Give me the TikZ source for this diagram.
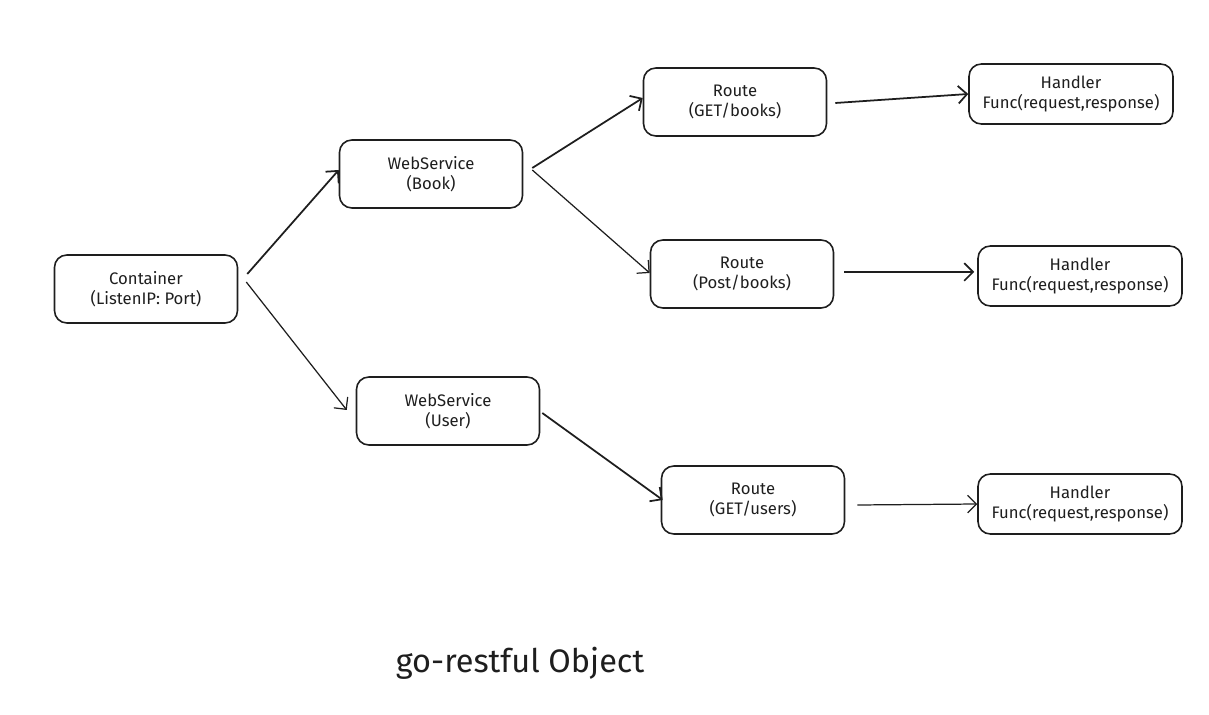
\documentclass[tikz,border=0pt]{standalone}
\usepackage{fontspec}
\setmainfont{Fira Sans}
\usetikzlibrary{arrows.meta}
\definecolor{ink}{HTML}{1E1E1E}
\tikzstyle{obj}=[draw=ink, text=ink, rounded corners=7pt, line width=.9pt, align=center, inner sep=2pt, font=\fontsize{9.5}{11.5}\selectfont, minimum width=3.66cm, minimum height=1.36cm]
\tikzstyle{hdl}=[obj, minimum width=4.08cm, minimum height=1.2cm]
\tikzstyle{link}=[->, draw=ink, line width=.7pt]
\tikzstyle{bold link}=[link, line width=1pt]

\begin{document}
\begin{tikzpicture}[x=.02cm,y=-.02cm,>={Straight Barb[length=5pt,width=10pt]}]
    \useasboundingbox (0,0) rectangle (1209,715);

    % Objects
    \draw (146,289) node[obj] (cont) {Container\\(ListenIP: Port)};
    \draw (431,174) node[obj] (wsb) {WebService\\(Book)};
    \draw (448,411) node[obj] (wsu) {WebService\\(User)};
    \draw (735,102) node[obj] (rgb) {Route\\(GET/books)};
    \draw (742,274) node[obj] (rpb) {Route\\(Post/books)};
    \draw (753,500) node[obj] (rgu) {Route\\(GET/users)};
    \draw (1071,94) node[hdl] (hgb) {Handler\\Func(request,response)};
    \draw (1080,276) node[hdl] (hpb) {Handler\\Func(request,response)};
    \draw (1080,504) node[hdl] (hgu) {Handler\\Func(request,response)};

    % Links
    \draw[bold link] ([shift={(9,-15)}]cont.east) -- ([shift={(0,-4)}]wsb.west);
    \draw[link] ([shift={(8,-7)}]cont.east) -- ([shift={(-9,-1)}]wsu.west);
    \draw[bold link] ([shift={(9,-6)}]wsb.east) -- ([shift={(0,-4)}]rgb.west);
    \draw[link] ([shift={(9,-4)}]wsb.east) -- ([shift={(0,-1)}]rpb.west);
    \draw[bold link] ([shift={(2,2)}]wsu.east) -- ([shift={(2,0)}]rgu.west);
    \draw[bold link] ([shift={(8,1)}]rgb.east) -- (hgb.west);
    \draw[bold link] ([shift={(10,-2)}]rpb.east) -- ([shift={(-3,-4)}]hpb.west);
    \draw[link] ([shift={(12,5)}]rgu.east) -- (hgu.west);

    % Title
    \draw (520,663) node[text=ink, font=\fontsize{18.5}{22}\selectfont] (title) {go-restful Object};

\end{tikzpicture}
\end{document}
